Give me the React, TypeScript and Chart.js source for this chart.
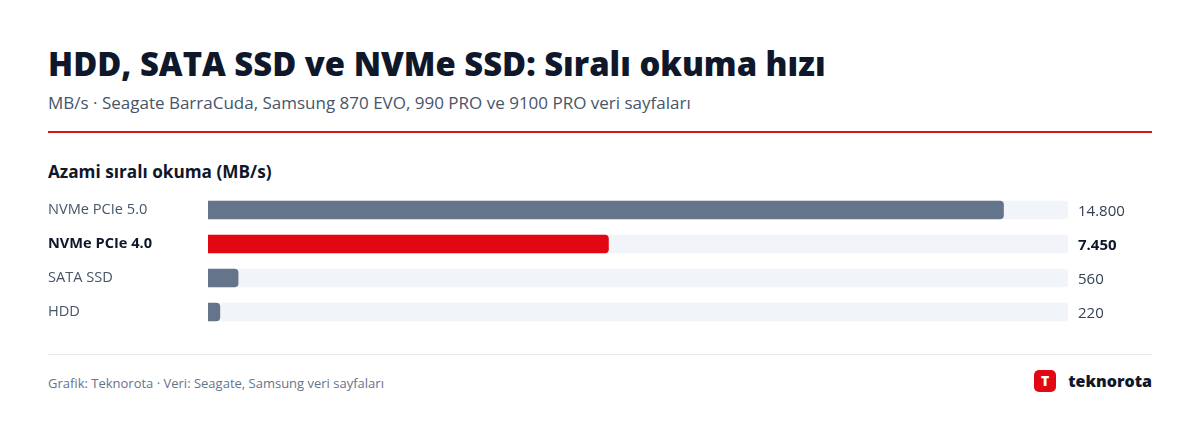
import React, { useEffect, useRef } from "react";
import { Chart, registerables } from "chart.js";

Chart.register(...registerables);

const categories = ["NVMe PCIe 5.0", "NVMe PCIe 4.0", "SATA SSD", "HDD"];
const readSpeeds = [14800, 7450, 560, 220];
const valueLabels = ["14.800", "7.450", "560", "220"];
const highlightIndex = 1;
const axisMax = 16000;

const FONT = "'Open Sans', 'Noto Sans', sans-serif";

const valueLabelPlugin = {
  id: "valueLabels",
  afterDatasetsDraw(chart: any) {
    const { ctx, chartArea } = chart;
    const meta = chart.getDatasetMeta(1);
    ctx.save();
    ctx.textBaseline = "middle";
    ctx.textAlign = "left";
    meta.data.forEach((bar: any, i: number) => {
      const bold = i === highlightIndex;
      ctx.font = `${bold ? 700 : 400} 15px ${FONT}`;
      ctx.fillStyle = bold ? "#0f172a" : "#334155";
      ctx.fillText(valueLabels[i], chartArea.right + 10, bar.y + 2);
    });
    ctx.restore();
  },
};

function BarChart() {
  const ref = useRef<HTMLCanvasElement>(null);
  useEffect(() => {
    if (!ref.current) return;
    const chart = new Chart(ref.current, {
      type: "bar",
      data: {
        labels: categories,
        datasets: [
          {
            data: categories.map(() => axisMax),
            backgroundColor: "#f1f4f9",
            borderRadius: 4,
            borderSkipped: false,
            barThickness: 18,
            grouped: false,
            order: 2,
          } as any,
          {
            data: readSpeeds,
            backgroundColor: readSpeeds.map((_, i) => (i === highlightIndex ? "#e30613" : "#64748b")),
            borderRadius: 4,
            barThickness: 18,
            grouped: false,
            order: 1,
          } as any,
        ],
      },
      options: {
        indexAxis: "y",
        animation: false,
        responsive: false,
        maintainAspectRatio: false,
        layout: { padding: { right: 84, top: 0, bottom: 0, left: 0 } },
        plugins: { legend: { display: false }, tooltip: { enabled: false } },
        scales: {
          x: {
            display: false,
            min: 0,
            max: axisMax,
          },
          y: {
            grid: { display: false, drawTicks: false },
            border: { display: false },
            afterFit: (scale: any) => {
              scale.width = 160;
              scale.paddingTop = 0;
              scale.paddingBottom = 0;
            },
            ticks: {
              crossAlign: "far",
              padding: 0,
              font: (c: any) => ({
                family: FONT,
                size: 14.6,
                weight: c.index === highlightIndex ? 700 : 400,
              }),
              color: (c: any) => (c.index === highlightIndex ? "#0f172a" : "#475569"),
            },
          },
        },
      } as any,
      plugins: [valueLabelPlugin],
    });
    return () => chart.destroy();
  }, []);
  return (
    <canvas
      ref={ref}
      width={1104}
      height={136}
      style={{ position: "absolute", left: 48, top: 193, width: 1104, height: 136 }}
    />
  );
}

export default function App() {
  return (
    <div
      style={{
        position: "relative",
        width: 1200,
        height: 426,
        background: "#fff",
        fontFamily: FONT,
        overflow: "hidden",
      }}
    >
      <style>{`body{margin:0}`}</style>
      <div
        style={{
          position: "absolute",
          left: 48,
          top: 44,
          fontSize: 32.8,
          lineHeight: "40px",
          fontWeight: 800,
          color: "#0f172a",
          whiteSpace: "nowrap",
        }}
      >
        HDD, SATA SSD ve NVMe SSD: Sıralı okuma hızı
      </div>
      <div
        style={{
          position: "absolute",
          left: 48,
          top: 91,
          fontSize: 17,
          lineHeight: "24px",
          color: "#475569",
          whiteSpace: "nowrap",
        }}
      >
        MB/s · Seagate BarraCuda, Samsung 870 EVO, 990 PRO ve 9100 PRO veri sayfaları
      </div>
      <div style={{ position: "absolute", left: 48, top: 131, width: 1104, height: 2, background: "#d7141e" }} />
      <div
        style={{
          position: "absolute",
          left: 48,
          top: 161,
          fontSize: 17.2,
          lineHeight: "22px",
          fontWeight: 700,
          color: "#0f172a",
          whiteSpace: "nowrap",
        }}
      >
        Azami sıralı okuma (MB/s)
      </div>
      <BarChart />
      <div style={{ position: "absolute", left: 48, top: 354, width: 1104, height: 1, background: "#e5e7eb" }} />
      <div
        style={{
          position: "absolute",
          left: 48,
          top: 374,
          fontSize: 13,
          lineHeight: "18px",
          color: "#64748b",
          whiteSpace: "nowrap",
        }}
      >
        Grafik: Teknorota · Veri: Seagate, Samsung veri sayfaları
      </div>
      <div
        style={{
          position: "absolute",
          right: 48,
          top: 370,
          height: 22,
          display: "flex",
          alignItems: "center",
          gap: 12,
        }}
      >
        <div
          style={{
            width: 22,
            height: 22,
            borderRadius: 5,
            background: "#e30613",
            color: "#fff",
            fontWeight: 800,
            fontSize: 14,
            display: "flex",
            alignItems: "center",
            justifyContent: "center",
            lineHeight: 1,
          }}
        >
          T
        </div>
        <div style={{ fontSize: 16, fontWeight: 800, color: "#0f172a", lineHeight: "22px" }}>teknorota</div>
      </div>
    </div>
  );
}
